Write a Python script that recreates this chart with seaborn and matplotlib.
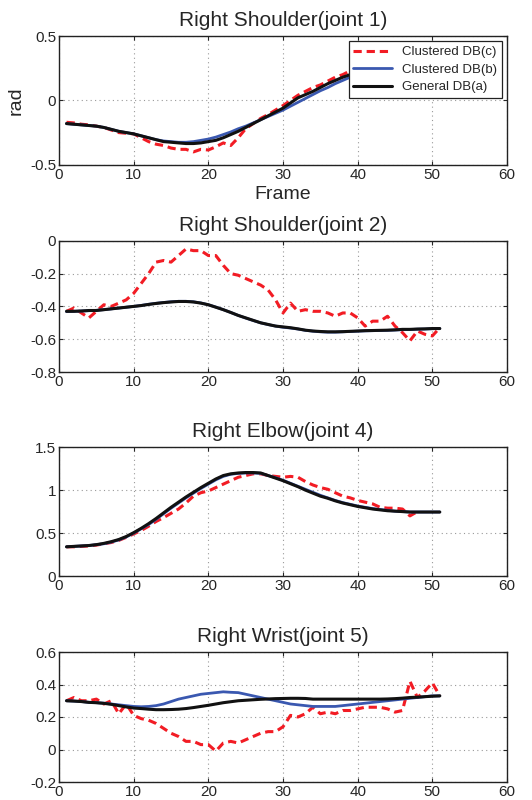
import numpy as np
import pandas as pd
import seaborn as sns
from matplotlib import pyplot as plt

# joint 1 - right shoulder
j1_c = [-0.17, -0.175, -0.185, -0.19, -0.20, -0.21, -0.23, -0.25, -0.255, -0.26,
        -0.29, -0.32, -0.34, -0.35, -0.37, -0.38, -0.38, -0.40, -0.38, -0.385,
        -0.36, -0.33, -0.35, -0.29, -0.22, -0.18, -0.14, -0.11, -0.075, -0.04,
        0.0, 0.04, 0.07, 0.10, 0.12, 0.15, 0.18, 0.20, 0.23, 0.25,
        0.27, 0.29, 0.31, 0.32, 0.33, 0.34, 0.35, 0.36, 0.36, 0.37, 0.37]
j1_b = [-0.18, -0.185, -0.19, -0.195, -0.20, -0.21, -0.225, -0.24, -0.25, -0.26,
        -0.275, -0.29, -0.305, -0.315, -0.32, -0.325, -0.325, -0.32, -0.31, -0.30,
        -0.285, -0.265, -0.245, -0.22, -0.20, -0.175, -0.15, -0.125, -0.10, -0.075,
        -0.045, -0.015, 0.015, 0.045, 0.075, 0.10, 0.13, 0.155, 0.18, 0.20,
        0.22, 0.24, 0.26, 0.275, 0.29, 0.30, 0.31, 0.32, 0.33, 0.335, 0.34]
j1_a = [-0.18, -0.185, -0.19, -0.195, -0.20, -0.21, -0.225, -0.24, -0.25, -0.26,
        -0.275, -0.29, -0.305, -0.32, -0.325, -0.33, -0.335, -0.335, -0.33, -0.32,
        -0.31, -0.29, -0.265, -0.24, -0.21, -0.18, -0.15, -0.12, -0.09, -0.06,
        -0.02, 0.02, 0.045, 0.07, 0.10, 0.13, 0.155, 0.18, 0.20, 0.22,
        0.24, 0.26, 0.28, 0.295, 0.31, 0.32, 0.33, 0.34, 0.345, 0.35, 0.35]

# joint 2 - right shoulder
j2_c = [-0.43, -0.41, -0.44, -0.47, -0.43, -0.39, -0.40, -0.38, -0.36, -0.32,
        -0.26, -0.20, -0.13, -0.12, -0.13, -0.09, -0.05, -0.06, -0.06, -0.09,
        -0.09, -0.15, -0.20, -0.21, -0.23, -0.25, -0.27, -0.30, -0.36, -0.44,
        -0.38, -0.43, -0.42, -0.43, -0.43, -0.44, -0.46, -0.44, -0.44, -0.47,
        -0.52, -0.49, -0.49, -0.46, -0.52, -0.56, -0.61, -0.55, -0.57, -0.58, -0.53]
j2_b = [-0.432, -0.43, -0.428, -0.426, -0.424, -0.42, -0.415, -0.41, -0.405, -0.40,
        -0.394, -0.387, -0.381, -0.376, -0.372, -0.369, -0.369, -0.372, -0.379, -0.39,
        -0.404, -0.42, -0.437, -0.455, -0.471, -0.486, -0.50, -0.511, -0.52, -0.527,
        -0.532, -0.538, -0.546, -0.551, -0.555, -0.557, -0.557, -0.555, -0.553, -0.551,
        -0.549, -0.548, -0.547, -0.546, -0.544, -0.542, -0.541, -0.539, -0.538, -0.536, -0.535]
j2_a = [-0.43, -0.43, -0.428, -0.425, -0.425, -0.42, -0.415, -0.41, -0.405, -0.40,
        -0.395, -0.388, -0.382, -0.377, -0.373, -0.37, -0.37, -0.373, -0.38, -0.39,
        -0.405, -0.42, -0.437, -0.455, -0.47, -0.485, -0.50, -0.51, -0.52, -0.525,
        -0.53, -0.537, -0.545, -0.55, -0.553, -0.555, -0.555, -0.554, -0.552, -0.55,
        -0.548, -0.547, -0.546, -0.545, -0.543, -0.54, -0.54, -0.538, -0.537, -0.535, -0.535]

# joint 4 - right elbow
j4_c = [0.34, 0.34, 0.345, 0.35, 0.36, 0.375, 0.39, 0.415, 0.45, 0.49,
        0.53, 0.58, 0.635, 0.68, 0.73, 0.78, 0.85, 0.93, 0.97, 0.99,
        1.03, 1.07, 1.11, 1.15, 1.17, 1.19, 1.19, 1.17, 1.16, 1.15,
        1.16, 1.15, 1.10, 1.06, 1.03, 1.01, 0.97, 0.93, 0.91, 0.88,
        0.86, 0.84, 0.80, 0.79, 0.79, 0.78, 0.70, 0.75]
j4_b = [0.34, 0.345, 0.35, 0.355, 0.365, 0.375, 0.395, 0.42, 0.455, 0.50,
        0.55, 0.60, 0.66, 0.725, 0.79, 0.85, 0.91, 0.965, 1.02, 1.07,
        1.12, 1.16, 1.185, 1.195, 1.20, 1.20, 1.195, 1.17, 1.145, 1.115,
        1.08, 1.045, 1.01, 0.975, 0.94, 0.91, 0.88, 0.855, 0.835, 0.815,
        0.80, 0.785, 0.775, 0.765, 0.755, 0.75, 0.745, 0.745, 0.745, 0.745, 0.745]
j4_a = [0.34, 0.345, 0.35, 0.355, 0.365, 0.38, 0.40, 0.425, 0.46, 0.505,
        0.555, 0.61, 0.67, 0.735, 0.80, 0.86, 0.92, 0.975, 1.03, 1.08,
        1.13, 1.17, 1.19, 1.20, 1.205, 1.205, 1.20, 1.17, 1.14, 1.11,
        1.075, 1.04, 1.00, 0.965, 0.93, 0.905, 0.875, 0.85, 0.83, 0.81,
        0.795, 0.78, 0.77, 0.76, 0.755, 0.75, 0.745, 0.745, 0.745, 0.745, 0.745]

# joint 5 - right wrist
j5_c = [0.30, 0.32, 0.30, 0.30, 0.31, 0.28, 0.30, 0.22, 0.28, 0.21,
        0.19, 0.18, 0.16, 0.13, 0.10, 0.08, 0.05, 0.05, 0.03, 0.03,
        -0.01, 0.04, 0.05, 0.04, 0.06, 0.08, 0.10, 0.11, 0.11, 0.14,
        0.21, 0.20, 0.22, 0.26, 0.22, 0.23, 0.22, 0.24, 0.24, 0.25,
        0.26, 0.26, 0.26, 0.25, 0.23, 0.24, 0.42, 0.32, 0.36, 0.41, 0.33]
j5_b = [0.30, 0.298, 0.295, 0.29, 0.288, 0.285, 0.28, 0.275, 0.27, 0.265,
        0.263, 0.265, 0.27, 0.28, 0.295, 0.31, 0.32, 0.33, 0.34, 0.345,
        0.35, 0.355, 0.352, 0.35, 0.34, 0.33, 0.32, 0.31, 0.30, 0.29,
        0.28, 0.275, 0.27, 0.265, 0.265, 0.265, 0.265, 0.27, 0.275, 0.28,
        0.285, 0.29, 0.295, 0.30, 0.305, 0.31, 0.315, 0.32, 0.325, 0.33, 0.33]
j5_a = [0.30, 0.298, 0.295, 0.29, 0.288, 0.284, 0.278, 0.27, 0.262, 0.255,
        0.252, 0.248, 0.245, 0.245, 0.246, 0.248, 0.252, 0.258, 0.265, 0.272,
        0.28, 0.288, 0.294, 0.30, 0.303, 0.306, 0.309, 0.311, 0.313, 0.314,
        0.315, 0.315, 0.314, 0.31, 0.31, 0.31, 0.31, 0.31, 0.31, 0.31,
        0.31, 0.31, 0.31, 0.311, 0.313, 0.316, 0.32, 0.322, 0.325, 0.328, 0.33]

titles = ['Right Shoulder(joint 1)', 'Right Shoulder(joint 2)',
          'Right Elbow(joint 4)', 'Right Wrist(joint 5)']
series = [(j1_c, j1_b, j1_a), (j2_c, j2_b, j2_a), (j4_c, j4_b, j4_a), (j5_c, j5_b, j5_a)]
ylims = [(-0.5, 0.5), (-0.8, 0), (0, 1.5), (-0.2, 0.6)]
yticks = [[-0.5, 0, 0.5], [-0.8, -0.6, -0.4, -0.2, 0], [0, 0.5, 1, 1.5], [-0.2, 0, 0.2, 0.4, 0.6]]
names = ['Clustered DB(c)', 'Clustered DB(b)', 'General DB(a)']
colors = ['#f21c24', '#3a58b0', '#111111']

sns.set_style('ticks')
plt.rcParams['font.family'] = ['Liberation Sans', 'DejaVu Sans']
plt.rcParams['axes.unicode_minus'] = True

fig = plt.figure(figsize=(5.32, 8), dpi=100)
boxes = [[0.111, 0.794, 0.842, 0.161],
         [0.111, 0.535, 0.842, 0.164],
         [0.111, 0.280, 0.842, 0.161],
         [0.111, 0.0225, 0.842, 0.1625]]

for i in range(4):
    ax = fig.add_axes(boxes[i])
    c, b, a = series[i]
    sns.lineplot(x=np.arange(1, len(c) + 1), y=c, ax=ax, color=colors[0], lw=2.2,
                 label=names[0], linestyle=(0, (2.7, 1.6)))
    sns.lineplot(x=np.arange(1, len(b) + 1), y=b, ax=ax, color=colors[1], lw=2.0, label=names[1])
    sns.lineplot(x=np.arange(1, len(a) + 1), y=a, ax=ax, color=colors[2], lw=2.2, label=names[2])
    ax.set_xlim(0, 60)
    ax.set_ylim(*ylims[i])
    ax.set_xticks([0, 10, 20, 30, 40, 50, 60])
    ax.set_yticks(yticks[i])
    ax.set_yticklabels(['%g' % v for v in yticks[i]])
    ax.grid(True, linestyle=(0, (1, 3)), color='#999999', lw=0.8)
    ax.tick_params(direction='in', top=True, right=True, labelsize=11, length=3, pad=2)
    for s in ax.spines.values():
        s.set_linewidth(1.0)
        s.set_color('#222222')
    ax.set_title(titles[i], fontsize=15, pad=7)
    if i == 0:
        ax.set_xlabel('Frame', fontsize=14, labelpad=3)
        ax.set_ylabel('rad', fontsize=14, labelpad=4)
        leg = ax.legend(loc='upper right', fontsize=9.5, frameon=True, fancybox=False,
                        edgecolor='#222222', framealpha=1, handlelength=2.9,
                        borderaxespad=0.4, labelspacing=0.4, borderpad=0.35)
        leg.get_frame().set_linewidth(0.9)
    else:
        ax.get_legend().remove()

fig.savefig('out.png', dpi=100)
